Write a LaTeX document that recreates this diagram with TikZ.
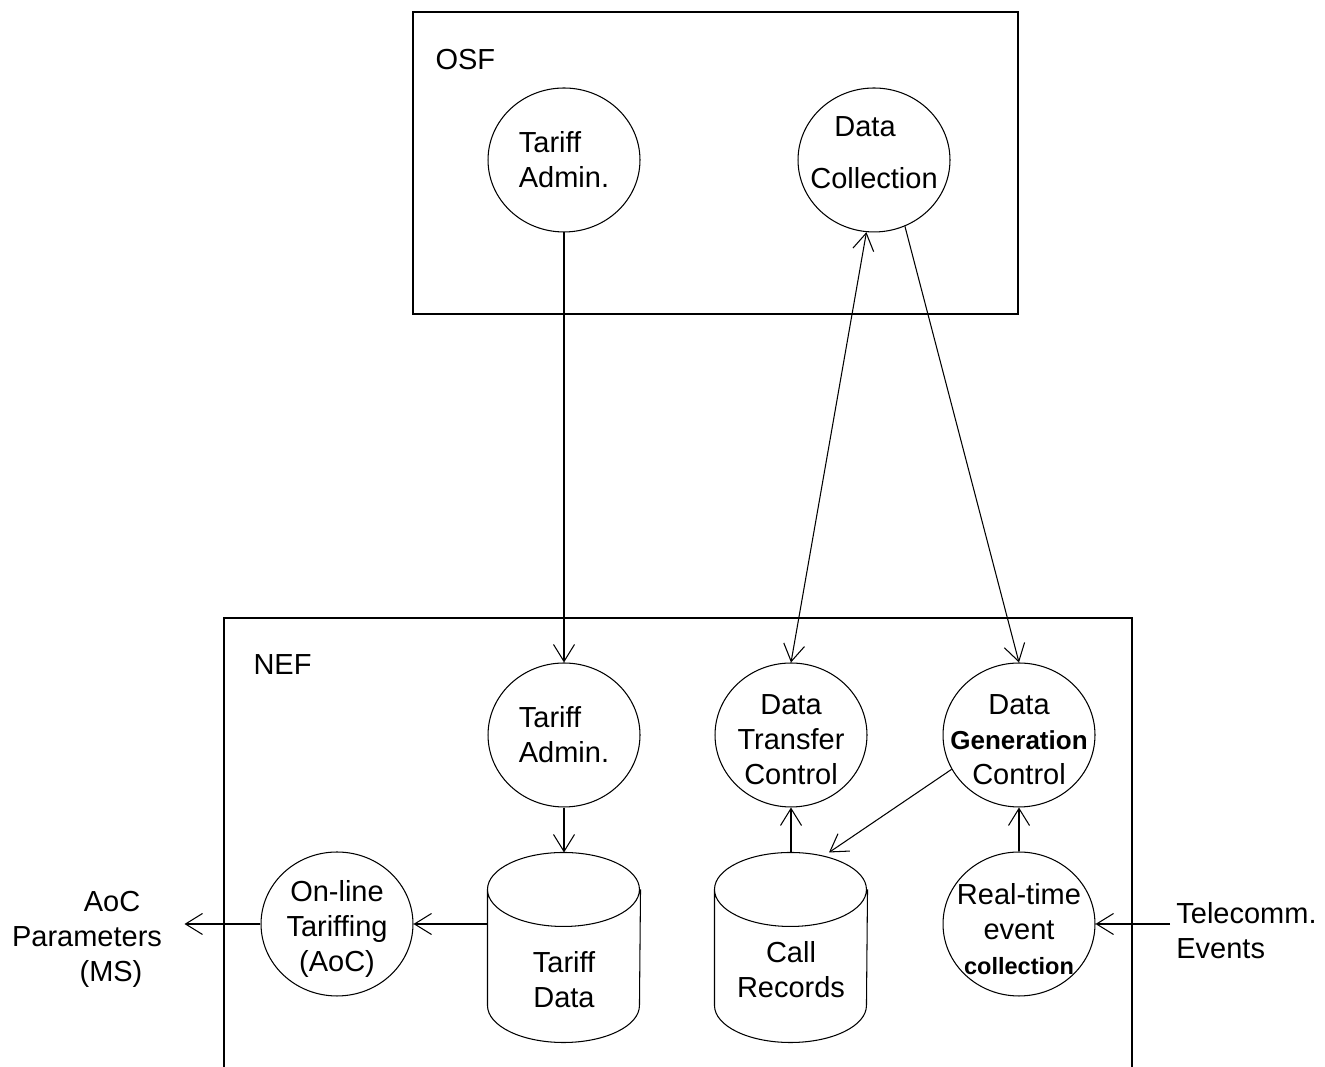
\documentclass[tikz,border=0pt]{standalone}
\usepackage{fontspec}
\setmainfont{Liberation Sans}
\usetikzlibrary{arrows.meta,shapes.geometric}

% Outline of a data store drawn round a named node
\newcommand\storedrum[1]{%
  \draw ([yshift=-0.74cm]#1.north west)
    arc[start angle=180, end angle=-180, x radius=1.52cm, y radius=0.74cm]
    -- ([yshift=0.74cm]#1.south west)
    arc[start angle=180, end angle=360, x radius=1.52cm, y radius=0.74cm]
    -- ([yshift=-0.74cm]#1.north east);}

\begin{document}
\begin{tikzpicture}[x=0.02cm, y=0.02cm, line width=0.6pt,
  >={Straight Barb[length=0.34cm,width=0.42cm]},
  every node/.style={font=\fontsize{16.5}{19.9}\selectfont},
  proc/.style={ellipse, draw, minimum width=3.04cm, minimum height=2.88cm, inner sep=0pt},
  store/.style={rectangle, minimum width=3.04cm, minimum height=3.78cm, inner sep=0pt},
  txt/.style={align=center, inner sep=0pt}]

  % Fix the page size
  \useasboundingbox (0,0) rectangle (1325,1067);

  % Upper box (OSF)
  \draw (413,753) rectangle (1018,1055);
  \node[anchor=base west, inner sep=0pt] (osf) at (435,997) {OSF};
  \node[proc, label={[txt, align=left]center:Tariff\\Admin.}] (osfta) at (564,907) {};
  \node[proc, label={[txt, yshift=0.15cm]center:Data\hspace*{0.36cm}\\[0.34cm]Collection}] (dc) at (874,907) {};

  % Lower box (NEF), open at the bottom
  \draw (224,0) |- (1132,449) -- (1132,0);
  \node[anchor=base west, inner sep=0pt] (nef) at (253,392) {NEF};

  % Processes in the NEF
  \node[proc, label={[txt, align=left]center:Tariff\\Admin.}] (nefta) at (564,332) {};
  \node[proc, label={[txt, yshift=-0.1cm]center:Data\\Transfer\\Control}] (dtc) at (791,332) {};
  \node[proc, label={[txt, yshift=-0.1cm]center:Data\\{\fontsize{14.8}{19.9}\selectfont\bfseries Generation}\\Control}] (dgc) at (1019,332) {};
  \node[proc, label={[txt, yshift=-0.1cm]center:On-line\\Tariffing\\(AoC)}] (olt) at (337,143) {};
  \node[proc, label={[txt, yshift=-0.1cm]center:Real-time\\event\\{\fontsize{13.4}{19.9}\selectfont\bfseries collection}}] (rt) at (1019,143) {};

  % Data stores
  \node[store, label={[txt, yshift=-0.64cm]center:Tariff\\Data}] (td) at (564,119.5) {};
  \node[store, label={[txt, yshift=-0.44cm]center:Call\\Records}] (cr) at (791,119.5) {};
  \storedrum{td}
  \storedrum{cr}

  % Outside texts
  \node[txt] (aoc) at (87,127.5) {\hspace*{1cm}AoC\\Parameters\\\hspace*{0.96cm}(MS)};
  \coordinate (aocend) at ([xshift=-1.52cm]olt.west);
  \node[anchor=west, align=left] (tce) at (1170,136) {Telecomm.\\Events};

  % Flows
  \draw[->] (osfta) -- (nefta);
  \draw[<->] (dc.264) -- (dtc.north);
  \draw[->] (dc.295) -- (dgc.north);
  \draw[->] (nefta) -- (td.north);
  \draw[->] (td.west |- olt) -- (olt);
  \draw[->] (olt) -- (aocend);
  \draw[->] (tce.west |- rt) -- (rt);
  \draw[->] (cr.north) -- (dtc);
  \draw[->] (dgc.207) -- ([xshift=0.76cm]cr.north);
  \draw[->] (rt) -- (dgc);

\end{tikzpicture}
\end{document}
